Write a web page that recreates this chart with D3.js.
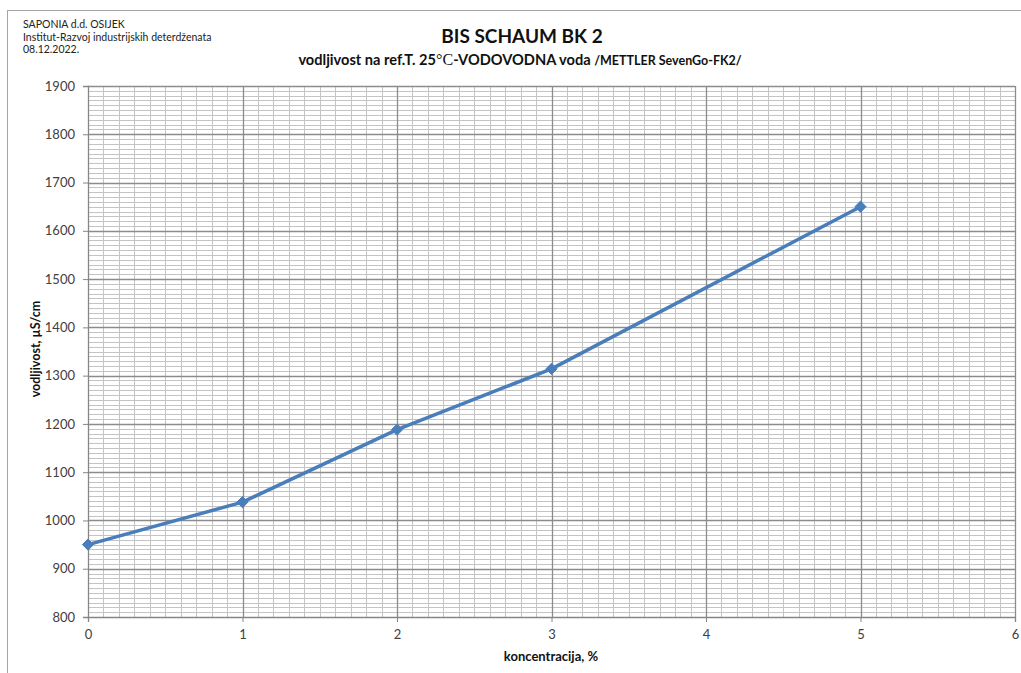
<!DOCTYPE html>
<html><head><meta charset="utf-8">
<script src="https://cdn.jsdelivr.net/npm/d3@7"></script>
<style>
body{margin:0;background:#fff;}
svg{display:block;}
</style></head>
<body>
<svg id="chart" width="1021" height="673"></svg>
<script>
// ---- data ----
const concentration = [0, 1, 2, 3, 5];
const conductivity = [950, 1038, 1188, 1314, 1650];
const xTicks = [0, 1, 2, 3, 4, 5, 6];
const yTicks = [800, 900, 1000, 1100, 1200, 1300, 1400, 1500, 1600, 1700, 1800, 1900];
const headerLines = ["SAPONIA d.d. OSIJEK", "Institut-Razvoj industrijskih deterdženata", "08.12.2022."];
const titleText = "BIS SCHAUM BK 2";
const xTitle = "koncentracija, %";
const yTitle = "vodljivost, µS/cm";

const svg = d3.select("#chart");
const font = "Lato, 'Open Sans', sans-serif";

// outer frame
svg.append("rect").attr("x", 7.5).attr("y", 10.5).attr("width", 1030).attr("height", 700)
  .attr("fill", "none").attr("stroke", "#a6a6a6").attr("stroke-width", 1);

const x = d3.scaleLinear().domain([0, 6]).range([88, 1015]);
const y = d3.scaleLinear().domain([800, 1900]).range([617, 86]);

// minor grid
const g = svg.append("g");
const minorX = d3.range(0, 60).map(i => i / 10).filter(v => Math.abs(v - Math.round(v)) > 1e-6);
const minorY = d3.range(800, 1900, 10).filter(v => v % 100 !== 0);
g.selectAll(".mx").data(minorX).join("line")
  .attr("x1", d => Math.round(x(d)) + 0.5).attr("x2", d => Math.round(x(d)) + 0.5)
  .attr("y1", y(1900)).attr("y2", y(800))
  .attr("stroke", "#c4c4c4").attr("stroke-width", 1);
g.selectAll(".my").data(minorY).join("line")
  .attr("y1", d => Math.round(y(d)) + 0.5).attr("y2", d => Math.round(y(d)) + 0.5)
  .attr("x1", x(0)).attr("x2", x(6))
  .attr("stroke", "#c4c4c4").attr("stroke-width", 1);
// major grid
g.selectAll(".Mx").data(xTicks.slice(1)).join("line")
  .attr("x1", d => Math.round(x(d)) + 0.5).attr("x2", d => Math.round(x(d)) + 0.5)
  .attr("y1", y(1900)).attr("y2", y(800))
  .attr("stroke", "#8c8c8c").attr("stroke-width", 1.3);
g.selectAll(".My").data(yTicks.slice(1)).join("line")
  .attr("y1", d => Math.round(y(d)) + 0.5).attr("y2", d => Math.round(y(d)) + 0.5)
  .attr("x1", x(0)).attr("x2", x(6))
  .attr("stroke", "#8c8c8c").attr("stroke-width", 1.3);

// axes
const xAxis = svg.append("g").attr("transform", `translate(0,${y(800)})`)
  .call(d3.axisBottom(x).tickValues(xTicks).tickSize(5).tickPadding(8).tickFormat(d3.format("d")));
const yAxis = svg.append("g").attr("transform", `translate(${x(0)},0)`)
  .call(d3.axisLeft(y).tickValues(yTicks).tickSize(5).tickPadding(8).tickFormat(d3.format("d")));
[xAxis, yAxis].forEach(a => {
  a.select(".domain").attr("stroke", "#868686").attr("stroke-width", 1.3);
  a.selectAll(".tick line").attr("stroke", "#868686");
  a.selectAll("text").attr("font-family", font).attr("font-size", 13).attr("fill", "#404040");
});

// line
const line = d3.line().x((d, i) => x(concentration[i])).y(d => y(d));
svg.append("path").datum(conductivity).attr("d", line)
  .attr("fill", "none").attr("stroke", "#4a7ebb").attr("stroke-width", 3.5).attr("stroke-linejoin", "round");
svg.selectAll(".mk").data(conductivity).join("path")
  .attr("transform", (d, i) => `translate(${x(concentration[i])},${y(d)})`)
  .attr("d", d3.symbol(d3.symbolDiamond2, 80)).attr("fill", "#4a7ebb").attr("stroke", "#4a7ebb");

// header
svg.selectAll(".hdr").data(headerLines).join("text")
  .attr("x", 23).attr("y", (d, i) => 28 + i * 12.5)
  .attr("font-family", font).attr("font-size", 10.5).attr("fill", "#222").text(d => d);

svg.append("text").attr("x", 522).attr("y", 43).attr("text-anchor", "middle")
  .attr("font-family", font).attr("font-size", 19).attr("font-weight", "bold").attr("fill", "#111").text(titleText);

const sub = svg.append("text").attr("x", 520).attr("y", 65).attr("text-anchor", "middle")
  .attr("font-family", font).attr("font-weight", "bold").attr("font-size", 14.6).attr("fill", "#111");
sub.append("tspan").text("vodljivost na ref.T. 25");
sub.append("tspan").attr("font-family", "'Liberation Serif', serif").attr("font-weight", "normal").attr("font-size", 16).text("°C");
sub.append("tspan").text("-VODOVODNA voda ");
sub.append("tspan").attr("font-size", 12.5).text("/METTLER SevenGo-FK2/");

svg.append("text").attr("x", 551).attr("y", 661).attr("text-anchor", "middle")
  .attr("font-family", font).attr("font-weight", "bold").attr("font-size", 13).attr("fill", "#111").text(xTitle);
svg.append("text").attr("transform", "translate(40,349) rotate(-90)").attr("text-anchor", "middle")
  .attr("font-family", font).attr("font-weight", "bold").attr("font-size", 12.5).attr("fill", "#111").text(yTitle);
</script>
</body></html>
